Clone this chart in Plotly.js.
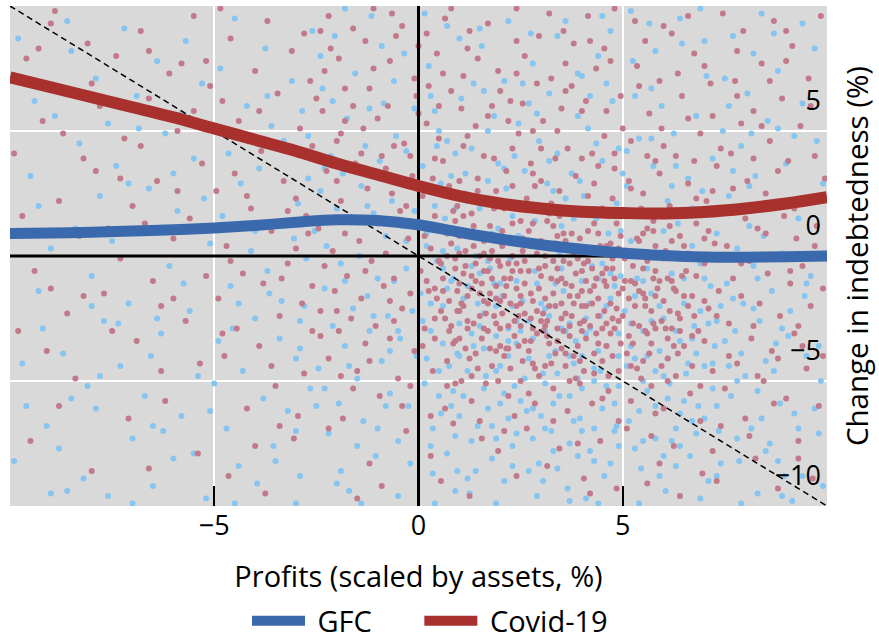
<!DOCTYPE html>
<html>
<head>
<meta charset="utf-8">
<script src="https://cdn.plot.ly/plotly-3.0.1.min.js"></script>
<style>html,body{margin:0;padding:0;background:#fff;}#chart{width:879px;height:639px;}</style>
</head>
<body>
<div id="chart"></div>
<script>
// ---- Data ----
const seriesNames = ["GFC", "Covid-19"];

// Smoothed lines (x in %, y in %)
const lineX = [-10,-9,-8,-7,-6,-5,-4,-3,-2,-1,0,1,2,3,4,5,6,7,8,9,10];
const gfcLineY = [0.9,0.92,0.95,1.0,1.05,1.12,1.22,1.35,1.45,1.42,1.25,0.95,0.68,0.45,0.27,0.12,0.02,-0.04,-0.05,-0.03,0.0];
const covidLineY = [7.15,6.75,6.35,5.95,5.55,5.1,4.65,4.2,3.7,3.25,2.8,2.4,2.1,1.9,1.77,1.72,1.7,1.76,1.9,2.1,2.35];

// Reference diagonal (y = -x) and zero lines
const diagX = [-10, 10];
const diagY = [10, -10];
const axisSpan = [-10, 10];
const zeroPair = [0, 0];

// Tick labels
const xTickVals = [-10, -5, 0, 5, 10];
const xTickText = ["", "\u22125", "0", "5", "10"];
const yTickVals = [-10, -5, 0, 5];
const yTickText = ["\u221210", "\u22125", "0", "5"];

// Firm-level scatter points, GFC
const gfcPoints = [
[-9.8,8.7],[-9.5,3.2],[-9.3,-1.4],[-9.1,-6.8],[-8.9,5.6],[-8.7,-3.9],[-8.6,9.4],[-8.4,1.1],[-8.2,-8.9],[-8.1,-5.2],[-7.9,7.1],[-7.8,2.4],[-7.7,-2.6],[-7.6,-9.6],[-9.7,-4.3],[-9.4,6.2],[-9.0,0.3],[-8.8,-7.7],[-8.3,4.5],[-8.0,-0.8],[-7.6,5.3],[-9.9,-8.2],[-9.2,-2.9],[-8.5,8.2],[-7.9,-6.1],
[-7.4,3.6],[-7.3,-4.4],[-7.2,9.1],[-7.1,-1.9],[-7.0,-7.3],[-6.9,6.4],[-6.8,0.9],[-6.7,-5.6],[-6.6,2.7],[-6.5,-9.2],[-6.4,7.8],[-6.3,-3.1],[-6.2,4.9],[-6.1,-0.4],[-6.0,-8.1],[-5.9,1.8],[-5.8,-6.4],[-5.7,8.6],[-5.6,-2.2],[-5.5,3.9],[-5.4,-4.8],[-5.3,6.9],[-5.2,-9.7],[-5.1,0.5],[-7.35,-2.7],[-6.85,5.1],[-6.25,-7.0],[-5.75,-1.1],[-5.25,2.3],[-6.55,-4.0],
[-4.9,-3.4],[-4.85,7.5],[-4.8,1.6],[-4.7,-6.9],[-4.65,4.1],[-4.6,-1.2],[-4.5,9.5],[-4.4,-8.4],[-4.35,2.9],[-4.3,-4.6],[-4.2,6.0],[-4.1,0.2],[-4.0,-2.5],[-3.95,-9.1],[-3.9,3.5],[-3.8,-5.7],[-3.75,8.3],[-3.7,-0.6],[-3.6,5.2],[-3.55,-7.6],[-3.5,1.3],[-3.4,-3.3],[-3.35,-1.8],[-3.3,4.6],[-3.2,-6.2],[-3.1,7.0],[-3.05,0.7],[-3.0,-4.1],[-2.95,2.1],[-2.9,-8.8],[-2.85,5.8],[-2.8,-2.0],[-2.75,-0.1],[-2.7,3.1],[-2.65,-5.3],[-2.6,9.0],[-2.55,1.0],[-4.55,-2.9],[-3.65,-1.5],[-2.9,-3.7],
[-2.45,-4.5],[-2.4,2.6],[-2.35,6.7],[-2.3,-1.3],[-2.25,0.4],[-2.2,-7.1],[-2.15,4.0],[-2.1,-2.8],[-2.05,8.8],[-2.0,1.9],[-1.95,-5.9],[-1.9,-0.3],[-1.85,3.3],[-1.8,-3.6],[-1.75,5.5],[-1.7,-9.4],[-1.65,1.4],[-1.6,-2.1],[-1.55,7.3],[-1.5,-4.9],[-1.45,0.0],[-1.4,2.8],[-1.35,-6.6],[-1.3,4.4],[-1.25,-1.6],[-1.2,-3.0],[-1.15,9.6],[-1.1,1.7],[-1.05,-8.0],[-1.0,-0.9],[-0.95,3.8],[-0.9,-4.2],[-0.85,6.1],[-0.8,0.8],[-0.75,-2.4],[-0.7,-5.5],[-0.65,2.2],[-0.6,-1.0],[-0.55,4.8],[-0.5,-7.4],[-0.45,-3.3],[-0.4,1.2],[-0.35,8.1],[-0.3,-0.5],[-0.25,-6.0],[-0.2,3.0],[-0.15,-2.2],[-0.1,5.9],[-0.05,-4.0],[-2.3,3.5],[-1.8,-1.0],[-1.25,2.0],[-0.7,-3.8],[-0.3,0.6],[-1.9,-8.6],
[0.05,-1.5],[0.1,3.6],[0.15,-5.1],[0.2,0.9],[0.25,7.6],[0.3,-3.0],[0.35,-8.7],[0.4,2.0],[0.45,-0.2],[0.5,5.0],[0.55,-6.3],[0.6,-2.0],[0.65,1.5],[0.7,9.2],[0.75,-4.4],[0.8,3.2],[0.85,-0.9],[0.9,-7.2],[0.95,0.3],[1.0,-2.7],[1.05,6.3],[1.1,-5.6],[1.15,2.5],[1.2,-1.2],[1.25,-9.5],[1.3,4.3],[1.35,-3.6],[1.4,0.0],[1.45,-6.8],[1.5,1.9],[1.55,8.4],[1.6,-2.3],[1.65,-4.8],[1.7,3.0],[1.75,-0.5],[1.8,-8.1],[1.85,5.6],[1.9,-3.2],[1.95,1.1],[2.0,-5.9],[2.05,-1.6],[2.1,7.0],[2.15,2.7],[2.2,-4.0],[2.25,-0.1],[2.3,-7.6],[2.35,4.0],[2.4,-2.6],[2.45,0.8],[0.2,-4.1],[0.45,4.4],[0.7,-1.3],[0.95,-3.9],[1.2,2.2],[1.45,-1.9],[1.7,-6.1],[1.95,3.7],[2.2,-2.9],[2.45,5.3],[0.35,-6.9],[0.6,0.2],[0.85,-5.4],[1.1,1.0],[1.35,6.9],[1.6,-3.7],[1.85,-1.1],[2.1,-9.0],[2.35,-5.2],[0.15,9.7],[0.55,2.9],[0.95,-8.6],[1.5,-0.7],[1.9,-4.6],[2.3,1.6],[2.4,-3.5],
[2.55,-1.8],[2.6,3.4],[2.65,-6.2],[2.7,0.5],[2.75,8.9],[2.8,-3.3],[2.85,-0.6],[2.9,5.7],[2.95,-8.3],[3.0,1.8],[3.05,-4.7],[3.1,-2.1],[3.15,2.9],[3.2,6.5],[3.25,-7.0],[3.3,-0.2],[3.35,-3.8],[3.4,4.1],[3.45,-5.6],[3.5,1.2],[3.55,-1.4],[3.6,9.4],[3.65,-9.3],[3.7,-2.7],[3.75,3.3],[3.8,-4.3],[3.85,0.4],[3.9,7.3],[3.95,-6.5],[4.0,-1.0],[4.05,2.4],[4.1,-3.1],[4.15,5.1],[4.2,-7.8],[4.25,-0.4],[4.3,-5.0],[4.35,1.5],[4.4,8.0],[4.45,-2.4],[4.5,3.8],[4.55,-8.8],[4.6,-3.6],[4.65,0.9],[4.7,-1.7],[4.75,6.2],[4.8,-5.9],[4.85,2.1],[4.9,-4.0],[4.95,-0.8],[2.6,-4.9],[2.85,1.4],[3.1,-6.9],[3.35,-1.1],[3.6,2.3],[3.85,-3.4],[4.1,-9.7],[4.35,4.5],[4.6,-2.0],[4.85,-6.8],[2.7,-2.6],[2.95,4.6],[3.2,-4.0],[3.45,0.1],[3.7,-7.5],[3.95,3.0],[4.2,-1.9],[4.45,-4.6],[4.7,9.0],[4.95,1.0],[2.55,6.9],[3.05,-9.0],[3.5,-2.9],[4.0,-5.3],[4.5,-0.3],[4.9,4.3],
[5.05,-2.2],[5.1,2.8],[5.15,-6.6],[5.2,0.6],[5.25,7.8],[5.3,-4.1],[5.35,-0.9],[5.4,4.7],[5.45,-8.5],[5.5,-3.0],[5.55,1.7],[5.6,-5.4],[5.65,9.3],[5.7,-1.5],[5.75,3.6],[5.8,-7.3],[5.85,0.0],[5.9,-3.8],[5.95,6.0],[6.0,-2.5],[6.05,-9.4],[6.1,2.2],[6.15,-5.1],[6.2,-0.7],[6.25,4.9],[6.3,-6.9],[6.35,1.3],[6.4,-3.4],[6.45,8.5],[6.5,-1.9],[6.55,-4.7],[6.6,3.1],[6.65,-8.0],[6.7,0.4],[6.75,-2.8],[6.8,5.6],[6.85,-6.0],[6.9,-0.3],[6.95,2.6],[7.0,-4.4],[7.05,7.2],[7.1,-9.0],[7.15,-1.2],[7.2,3.9],[7.25,-3.6],[7.3,0.9],[7.35,-7.0],[7.4,-2.0],[7.45,5.0],[5.5,-1.0],[6.0,1.0],[6.5,-5.8],[7.0,-0.9],[5.3,6.4],[6.8,-3.9],
[7.55,-1.1],[7.6,2.4],[7.65,-5.6],[7.7,8.8],[7.75,-3.0],[7.8,0.3],[7.85,-8.2],[7.9,4.4],[7.95,-1.9],[8.0,-4.8],[8.05,6.5],[8.1,1.2],[8.15,-6.9],[8.2,-0.4],[8.25,3.2],[8.3,-9.5],[8.35,-2.6],[8.4,9.7],[8.45,0.8],[8.5,-4.2],[8.55,5.4],[8.6,-7.5],[8.65,-1.4],[8.7,2.0],[8.75,-3.5],[8.8,7.4],[8.85,-5.9],[8.9,0.1],[8.95,-8.8],[9.0,3.7],[9.1,-2.2],[9.2,-6.3],[9.3,1.5],[9.4,6.1],[9.5,-4.0],[9.6,-0.8],[9.7,8.3],[9.8,-7.1],[9.9,2.9],[9.15,-9.8],[9.45,-1.6],[9.75,4.6],[9.05,-3.2],[8.15,4.9],[9.85,-5.0],
[0.3,-1.9],[0.6,-3.5],[0.9,1.9],[1.2,-4.6],[1.5,-2.8],[1.8,0.9],[2.1,-5.5],[2.4,-1.0],[2.7,-4.1],[3.0,-1.9],[3.3,-5.9],[3.6,-3.0],[3.9,-4.9],[4.2,-2.9],[4.5,-6.1],[4.8,-1.2],[5.1,-4.4],[5.4,-6.2],[5.7,-2.6],[6.0,-4.8],[6.3,-3.0],[6.6,-4.3],[6.9,-2.2],[7.2,-5.3],[7.5,-3.4],[7.8,-5.0],[0.5,-5.6],[1.0,-6.4],[1.6,-5.3],[2.2,-6.5],[2.8,-7.3],[3.4,-4.7],[4.0,-7.0],[4.6,-5.2],[5.2,-3.6],[5.8,-4.6],[6.4,-6.3],[7.0,-6.5],[7.6,-4.4],[0.8,-1.0],[1.3,-3.1],[1.9,-2.0],[2.5,-3.0],[3.1,-5.1],[3.7,-5.6],[4.3,-4.5],[4.9,-3.1],[5.5,-5.0],[6.1,-5.7],[6.7,-3.3],[7.3,-2.6],[0.2,0.4],[1.15,3.3],[2.6,2.0],[3.8,1.5],[5.0,3.3],[6.2,2.8],[7.4,1.7],[5.6,-0.5],[4.4,-0.9],
[-9.6,-6.0],[-9.0,-9.5],[-8.5,-5.7],[-8.0,-2.0],[-7.5,0.6],[-7.0,-9.9],[-6.5,-6.8],[-6.0,3.3],[-5.5,-7.9],[-5.0,-5.1],[-4.5,-9.9],[-4.0,1.0],[-3.5,-8.2],[-3.0,-9.9],[-2.5,-6.0],[-2.0,-9.1],[-1.5,-7.6],[-1.0,-6.9],[-0.5,-9.6],[-0.2,-8.3],
[0.4,-9.9],[0.9,-9.4],[1.4,-8.6],[1.9,-9.9],[2.4,-7.1],[2.9,-9.6],[3.4,-8.5],[3.9,-8.0],[4.4,-9.9],[4.9,-7.6],[5.4,-9.9],[5.9,-8.8],[6.4,-7.6],[6.9,-9.7],[7.4,-8.3],[7.9,-9.9],[8.4,-6.5],[8.9,-9.6],[9.4,-8.8],[9.9,-9.2],
[0.3,-7.6],[0.8,-6.0],[1.3,-7.4],[1.8,-6.8],[2.3,-8.4],[2.8,-6.1],[3.3,-7.8],[3.8,-6.6],[4.3,-8.2],[4.8,-7.0],[5.3,-7.7],[5.8,-6.0],[6.3,-8.4],[6.8,-7.1],[7.3,-6.0],[7.8,-7.3],[8.3,-5.4],[8.8,-8.2],[9.3,-6.9],[9.8,-3.6],
[0.4,5.8],[1.0,8.7],[1.6,6.6],[2.2,9.4],[2.8,7.7],[3.4,8.8],[4.0,7.2],[4.6,6.9],[5.2,9.8],[5.8,8.2],[6.4,9.5],[7.0,8.6],[7.6,6.0],[8.2,8.1],[8.8,5.1],[9.4,9.3],[-0.6,7.0],[-1.2,5.9],[-1.8,9.9],[-2.4,8.0],
[0.6,-0.5],[1.1,-1.7],[1.7,-0.2],[2.3,-2.0],[2.9,-1.1],[3.5,-0.5],[4.1,-2.5],[4.7,-0.7],[5.3,-1.6],[5.9,-2.0],[6.5,-0.9],[7.1,-2.7],[7.7,-1.7],[8.3,-0.9],[8.9,-2.9],[9.5,-1.1],[2.0,-4.4],[3.2,-2.4],[4.4,-3.8],[5.6,-4.0],
[-2.7,4.8],[-2.1,6.2],[-1.5,3.6],[-0.9,8.4],[-0.3,4.2],[0.3,6.4],[0.9,4.1],[1.5,9.1],[2.1,3.5],[2.7,6.1],[3.3,2.6],[3.9,5.6],[4.5,9.6],[5.1,4.2],[5.7,6.7],[6.3,3.6],[6.9,9.9],[7.5,7.1],[8.1,2.8],[8.7,8.9],
[-2.9,-2.6],[-2.3,-5.3],[-1.7,-4.4],[-1.1,-2.4],[-0.5,-3.0],[0.1,-2.6],[0.7,-7.9],[1.3,-0.4],[1.9,-7.3],[2.5,-5.8],[3.1,-3.0],[3.7,-9.8],[4.3,-6.9],[4.9,-5.2],[5.5,-7.4],[6.1,-4.1],[6.7,-6.6],[7.3,-8.8],[7.9,-3.9],[8.5,-7.8],
[0.2,2.8],[0.7,4.6],[1.2,-8.9],[1.7,5.0],[2.2,-3.4],[2.7,-8.6],[3.2,3.8],[3.7,-4.0],[4.2,6.4],[4.7,-8.3],[5.2,-2.7],[5.7,4.7],[6.2,-7.4],[6.7,1.9],[7.2,-4.3],[7.7,3.4],[8.2,-2.1],[8.7,-4.6],[9.2,4.8],[9.7,-6.1],
[-9.3,2.0],[-8.6,-9.4],[-7.8,-4.8],[-7.1,2.9],[-6.4,-2.5],[-5.8,5.7],[-5.1,-6.2],[-4.4,-1.9],[-3.7,6.4],[-3.0,-7.0],[-2.2,1.4],[-1.4,-9.9],[-0.8,-6.0],[-0.1,1.8],[0.5,-4.6],[1.0,-4.0],[2.0,-1.1],[3.0,-6.4],[4.0,-4.0],[6.0,-8.0]
];

// Firm-level scatter points, Covid-19
const covidPoints = [
[-9.9,4.1],[-9.6,7.9],[-9.4,-0.6],[-9.2,5.4],[-9.0,9.3],[-8.8,2.2],[-8.6,-2.3],[-8.5,6.6],[-8.3,0.8],[-8.1,8.5],[-7.9,3.4],[-7.7,-1.5],[-9.7,1.6],[-9.1,-3.8],[-8.4,-4.9],[-7.8,6.0],[-9.5,-7.4],[-8.0,-8.6],[-7.6,1.1],[-8.9,9.8],
[-7.4,8.0],[-7.3,-0.1],[-7.2,4.7],[-7.0,2.0],[-6.9,-3.4],[-6.8,9.0],[-6.6,6.3],[-6.5,-1.0],[-6.4,3.0],[-6.2,-5.8],[-6.1,7.3],[-6.0,0.7],[-5.9,5.0],[-5.7,-2.6],[-5.6,1.5],[-5.5,9.6],[-5.4,-7.9],[-5.3,3.7],[-5.2,-0.8],[-5.1,6.8],[-7.1,-6.5],[-6.7,1.3],[-6.3,-2.0],[-5.8,7.7],[-5.35,-4.3],
[-4.95,2.6],[-4.9,-1.7],[-4.8,6.2],[-4.75,-4.0],[-4.7,0.4],[-4.6,8.7],[-4.5,3.3],[-4.45,-2.9],[-4.4,5.4],[-4.3,-0.7],[-4.2,-6.1],[-4.1,1.9],[-4.0,7.4],[-3.9,-3.6],[-3.85,4.2],[-3.8,-1.1],[-3.7,9.4],[-3.6,1.0],[-3.5,-5.2],[-3.45,6.5],[-3.4,-2.4],[-3.3,3.0],[-3.2,-0.3],[-3.1,8.2],[-3.05,-7.3],[-3.0,2.3],[-2.9,5.1],[-2.85,-1.9],[-2.8,-4.7],[-2.7,0.9],[-2.65,7.0],[-2.6,-3.0],[-2.55,3.9],[-4.65,-8.8],[-3.75,-9.5],[-2.95,-6.4],[-4.15,4.6],[-3.35,-0.9],[-2.75,1.6],[-4.85,9.9],
[-2.45,1.1],[-2.4,-2.2],[-2.35,5.8],[-2.3,-0.4],[-2.25,3.4],[-2.2,-4.1],[-2.15,8.3],[-2.1,0.2],[-2.05,-1.4],[-2.0,4.6],[-1.95,-3.0],[-1.9,2.2],[-1.85,-6.5],[-1.8,6.7],[-1.75,-0.8],[-1.7,1.5],[-1.65,-2.5],[-1.6,9.1],[-1.55,3.7],[-1.5,-4.6],[-1.45,0.6],[-1.4,-1.7],[-1.35,5.1],[-1.3,-3.5],[-1.25,2.7],[-1.2,-8.3],[-1.15,-0.2],[-1.1,7.5],[-1.05,-2.8],[-1.0,1.3],[-0.95,-5.6],[-0.9,4.0],[-0.85,-1.2],[-0.8,0.1],[-0.75,6.0],[-0.7,-3.3],[-0.65,2.5],[-0.6,-0.9],[-0.55,8.8],[-0.5,-4.9],[-0.45,1.8],[-0.4,-2.1],[-0.35,4.5],[-0.3,-7.0],[-0.25,0.7],[-0.2,-1.5],[-0.15,3.2],[-0.1,-3.8],[-0.05,6.4],[-2.2,-6.9],[-1.6,-5.3],[-0.9,-9.2],[-0.4,-6.0],[-1.95,7.9],[-0.65,9.7],
[0.05,-0.6],[0.1,2.4],[0.15,-2.9],[0.2,5.3],[0.25,-1.4],[0.3,0.3],[0.35,-4.6],[0.4,1.6],[0.45,8.1],[0.5,-0.2],[0.55,-2.2],[0.6,3.8],[0.65,-6.1],[0.7,0.9],[0.75,-1.8],[0.8,6.6],[0.85,-3.5],[0.9,-0.5],[0.95,2.0],[1.0,-1.1],[1.05,-5.0],[1.1,4.4],[1.15,0.2],[1.2,-2.6],[1.25,9.0],[1.3,-0.8],[1.35,1.2],[1.4,-3.9],[1.45,3.1],[1.5,-1.5],[1.55,-7.3],[1.6,0.6],[1.65,-2.3],[1.7,5.6],[1.75,-0.1],[1.8,-4.4],[1.85,1.9],[1.9,-1.2],[1.95,7.4],[2.0,-2.9],[2.05,0.4],[2.1,-0.9],[2.15,3.4],[2.2,-5.6],[2.25,-1.9],[2.3,1.3],[2.35,-3.2],[2.4,-0.3],[2.45,4.9],[0.1,-3.6],[0.3,-8.0],[0.5,4.7],[0.7,-4.2],[0.9,1.4],[1.1,-2.0],[1.3,-5.8],[1.5,0.0],[1.7,-3.0],[1.9,2.6],[2.1,-4.0],[2.3,-0.6],[2.45,-2.4],[0.2,-1.0],[0.4,-2.5],[0.6,-0.9],[0.8,0.5],[1.0,-3.3],[1.2,0.9],[1.4,-1.0],[1.6,-1.8],[1.8,0.2],[2.0,-0.4],[2.2,-2.8],[2.4,-1.3],[0.25,6.8],[0.65,9.5],[1.05,5.9],[1.45,7.9],[1.85,3.9],[2.25,6.2],[0.55,-9.0],[1.25,-9.6],[1.95,-7.8],[0.85,-6.7],[1.65,-5.1],[2.35,-6.4],[0.15,0.8],[0.45,-1.7],[0.75,2.8],[1.15,-0.4],[1.35,-2.7],[1.55,2.2],[1.75,-1.5],[2.05,1.0],[2.15,-3.7],[0.95,-2.2],[1.85,-2.4],[2.3,2.8],[0.35,3.1],[2.4,8.6],
[2.5,-1.6],[2.55,0.7],[2.6,-3.4],[2.65,2.3],[2.7,-0.6],[2.75,-2.5],[2.8,5.0],[2.85,-4.5],[2.9,0.1],[2.95,-1.3],[3.0,3.0],[3.05,-3.0],[3.1,-0.4],[3.15,1.4],[3.2,-2.0],[3.25,7.1],[3.3,-5.3],[3.35,0.5],[3.4,-1.0],[3.45,2.6],[3.5,-3.7],[3.55,-0.2],[3.6,-2.3],[3.65,4.3],[3.7,-1.6],[3.75,0.9],[3.8,-4.0],[3.85,-0.7],[3.9,1.8],[3.95,-2.7],[4.0,5.8],[4.05,-0.3],[4.1,-3.3],[4.15,1.0],[4.2,-1.4],[4.25,-5.9],[4.3,2.9],[4.35,-0.9],[4.4,-2.4],[4.45,0.4],[4.5,-4.2],[4.55,8.3],[4.6,-1.2],[4.65,1.6],[4.7,-3.1],[4.75,-0.1],[4.8,3.5],[4.85,-2.1],[4.9,-6.6],[4.95,0.8],
[2.6,-0.2],[2.8,1.3],[3.0,-0.8],[3.2,0.3],[3.4,-2.9],[3.6,0.6],[3.8,-1.9],[4.0,-0.6],[4.2,0.2],[4.4,-1.7],[4.6,-0.5],[4.8,-2.9],[2.7,-3.8],[2.9,-2.2],[3.1,-4.4],[3.3,-1.5],[3.5,-0.9],[3.7,-3.2],[3.9,-0.1],[4.1,-2.0],[4.3,-3.9],[4.5,-0.7],[4.7,0.5],[4.9,-1.5],
[2.55,6.1],[2.95,8.8],[3.35,3.9],[3.75,6.8],[4.15,9.6],[4.55,4.8],[4.95,6.4],[3.05,5.4],[3.55,9.0],[4.35,7.5],[2.65,-6.9],[3.15,-8.4],[3.65,-6.2],[4.05,-8.9],[4.45,-7.4],[4.85,-9.3],[2.85,-5.9],[3.45,-7.7],[3.95,-5.1],[4.65,-5.4],[2.75,3.7],[3.25,2.1],[3.85,3.2],[4.25,4.1],[4.75,2.3],[3.15,-2.6],[3.6,-1.1],[4.05,-4.6],[4.5,1.9],[2.5,-5.0],
[5.05,-1.0],[5.1,1.6],[5.15,-3.2],[5.2,4.6],[5.25,-0.4],[5.3,-2.0],[5.35,7.6],[5.4,0.6],[5.45,-4.9],[5.5,2.5],[5.55,-1.7],[5.6,-0.2],[5.65,5.7],[5.7,-3.5],[5.75,1.0],[5.8,-6.3],[5.85,-1.3],[5.9,3.3],[5.95,-2.6],[6.0,9.2],[6.05,0.2],[6.1,-4.1],[6.15,2.0],[6.2,-1.0],[6.25,-7.6],[6.3,4.0],[6.35,-2.3],[6.4,0.8],[6.45,6.4],[6.5,-3.6],[6.55,-0.6],[6.6,2.9],[6.65,-5.5],[6.7,-1.6],[6.75,8.1],[6.8,1.3],[6.85,-3.0],[6.9,4.9],[6.95,-8.7],[7.0,-0.3],[7.05,2.2],[7.1,-2.1],[7.15,6.9],[7.2,-4.6],[7.25,0.5],[7.3,3.6],[7.35,-1.4],[7.4,-6.8],[7.45,9.7],[5.2,-5.8],[5.6,-9.1],[6.0,-6.1],[6.4,-9.6],[6.9,-5.2],[7.3,-9.0],[5.4,-2.8],[5.8,0.4],[6.2,-2.9],[6.6,0.1],[7.0,-3.4],[5.15,3.0],[5.55,8.6],[5.95,5.1],[6.35,7.3],[6.75,3.8],[7.2,5.6],[5.7,-7.2],[6.1,-0.9],[6.5,1.7],[7.1,1.0],
[7.55,0.4],[7.6,-2.7],[7.65,4.1],[7.7,-0.9],[7.75,7.0],[7.8,-4.3],[7.85,1.8],[7.9,-1.6],[7.95,9.0],[8.0,-6.5],[8.05,3.0],[8.1,-0.2],[8.15,-3.3],[8.2,5.8],[8.25,-8.1],[8.3,1.1],[8.35,-1.9],[8.4,7.7],[8.45,-5.0],[8.5,2.5],[8.55,-0.7],[8.6,4.6],[8.65,-3.8],[8.7,9.4],[8.75,0.0],[8.8,-9.3],[8.85,-2.4],[8.9,6.3],[8.95,1.6],[9.0,-5.7],[9.05,3.8],[9.1,-1.1],[9.15,8.4],[9.2,-3.1],[9.25,0.7],[9.3,-7.4],[9.35,5.2],[9.4,-0.4],[9.45,2.2],[9.5,-4.5],[9.55,7.1],[9.6,-2.0],[9.65,-8.9],[9.7,4.0],[9.75,1.2],[9.8,-6.0],[9.85,9.6],[9.9,-1.3],[9.95,3.1],[7.7,2.7],[8.3,-4.8],[8.8,3.4],[9.3,-2.8],[7.9,5.3],[9.6,6.0],
[0.6,-1.4],[0.8,-2.8],[1.0,0.1],[1.2,-1.6],[1.4,-0.3],[1.6,-2.9],[1.8,-0.9],[2.0,-3.6],[2.2,0.6],[2.4,-2.0],[2.6,-1.1],[2.8,-2.9],[3.0,0.6],[3.2,-3.5],[3.4,-0.5],[3.6,-4.4],[3.8,0.1],[4.0,-1.4],[4.2,-2.8],[4.4,0.9],[4.6,-3.6],[4.8,-0.9],[5.0,-2.4],[5.2,0.1],[5.4,-1.4],[5.6,-3.1],[5.8,-0.6],[6.0,-1.8],[6.2,0.6],[6.4,-2.5],
[0.7,0.0],[0.9,-3.4],[1.1,-0.7],[1.3,1.7],[1.5,-2.4],[1.7,-0.6],[1.9,-3.8],[2.1,-1.6],[2.3,0.0],[2.5,-2.8],[2.7,1.0],[2.9,-3.1],[3.1,-1.7],[3.3,1.2],[3.5,-2.5],[3.7,-0.3],[3.9,-3.6],[4.1,-1.0],[4.3,1.3],[4.5,-2.9],[4.7,-1.9],[4.9,0.3],[5.1,-3.9],[5.3,-1.1],[5.5,0.9],[5.7,-2.2],[5.9,-1.0],[6.1,-3.3],[6.3,-1.4],[6.5,0.4],
[1.05,-1.9],[1.55,-3.3],[2.05,-2.3],[2.55,0.2],[3.05,-2.3],[3.55,-3.0],[4.05,-2.6],[4.55,-1.0],[5.05,-0.1],[5.55,-2.0],[6.05,-2.9],[1.25,-4.1],[1.75,1.2],[2.25,-4.5],[2.75,-1.5],[3.25,-0.9],[3.75,-2.4],[4.25,-0.5],[4.75,-4.0],[5.25,-2.7],[5.75,1.4],[6.25,-1.3],[0.85,1.8],[1.45,2.6],[2.15,2.1],[2.85,2.8],[3.45,1.6],[4.15,2.4],[4.85,1.3],[5.45,1.9],[6.15,1.2],[3.85,-4.9],[2.95,-4.8],[4.65,-4.8],[1.95,-5.0],[5.35,-4.5],
[0.4,-3.3],[0.55,1.0],[3.35,-3.9],[3.95,0.7],[2.45,-3.6],[5.65,-3.9],[6.35,-3.9],[6.6,-2.0],[6.8,-0.8],[7.0,-1.8],
[-2.8,8.9],[-2.5,6.3],[-2.2,9.6],[-1.9,4.9],[-1.6,6.0],[-1.3,8.6],[-1.0,5.5],[-0.7,7.8],[-0.4,9.2],[-0.1,7.1],[0.2,8.9],[0.5,6.0],[0.8,9.9],[1.1,7.2],[1.4,5.2],[1.7,9.3],[2.0,6.6],[2.3,4.3],[2.6,8.0],[2.9,6.9],[3.2,9.7],[3.5,5.9],[3.8,8.5],[4.1,6.2],[4.4,3.6],[4.7,7.8],[5.0,5.1],[5.3,9.4],[5.6,4.0],[5.9,7.0],
[-2.6,4.4],[-2.0,3.0],[-1.4,4.1],[-0.8,3.5],[-0.2,4.0],[0.4,3.9],[1.0,3.0],[1.6,4.0],[2.2,5.4],[2.8,3.3],[3.4,5.0],[4.0,3.9],[4.6,5.8],[5.2,2.7],[5.8,3.8],[-2.3,7.4],[-1.1,9.9],[0.0,8.4],[1.2,8.3],[2.4,9.9],[3.6,7.7],[4.8,9.9],[6.2,8.9],[6.6,5.5],[7.0,7.6],[7.4,4.3],[7.8,8.2],[8.2,3.9],[8.6,7.0],[9.0,9.0],
[0.55,-0.3],[0.75,-3.0],[0.95,-1.4],[1.15,-3.7],[1.35,0.4],[1.55,-1.1],[1.75,-3.7],[1.95,-0.2],[2.15,-1.2],[2.35,-2.6],[2.55,-4.2],[2.75,0.4],[2.95,-0.5],[3.15,-3.2],[3.35,-2.0],[3.55,0.9],[3.75,-1.2],[3.95,-4.2],[4.15,-0.2],[4.35,-3.1],[4.55,-2.2],[4.75,-0.5],[4.95,-3.5],[5.15,-1.7],[5.35,0.7],[5.55,-3.0],[5.75,-0.9],[5.95,-4.4],[6.15,-2.2],[6.45,-0.8],
[0.65,-2.5],[0.9,-0.1],[1.2,-2.9],[1.45,-4.5],[1.7,-1.9],[2.0,-1.8],[2.25,-0.9],[2.5,-0.6],[2.75,-3.4],[3.0,-2.6],[3.25,-4.3],[3.5,-1.9],[3.75,0.3],[4.0,-3.0],[4.25,-1.9],[4.5,0.2],[4.75,-2.5],[5.0,-1.3],[5.25,-3.5],[5.5,-0.5],[5.75,-2.7],[6.0,-0.1],[6.25,-3.6],[6.5,-1.6],[6.75,-2.4],
[1.0,0.8],[1.6,0.1],[2.2,-0.3],[2.8,-1.8],[3.4,-3.4],[4.0,0.3],[4.6,-2.7],[5.2,-4.4],[5.8,-1.6],[6.4,-3.0],[1.3,-1.3],[1.9,-2.7],[2.5,-1.9],[3.1,0.0],[3.7,-2.8],[4.3,-1.2],[4.9,-4.6],[5.5,-1.5],[6.1,0.0],[6.7,-4.4],[3.3,-0.2],[3.9,-1.6],[4.4,-3.5],[2.6,-2.3],[3.6,-3.9],
[-9.0,-1.3],[-8.2,3.9],[-7.5,-3.0],[-6.8,4.4],[-6.0,-1.7],[-5.5,5.8],[-4.8,-3.1],[-4.2,2.4],[-3.6,-4.4],[-3.0,0.3],[-2.4,-3.2],[-1.8,0.9],[-1.2,-4.2],[-0.6,-2.6],[-0.2,-5.2],[0.3,-6.4],[0.9,-5.1],[1.5,-6.6],[2.1,-7.0],[2.7,-5.5],[3.3,-6.6],[3.9,-7.5],[4.5,-5.7],[5.1,-6.9],[5.7,-5.2],[6.3,-4.8],[6.9,-6.6],[7.5,-5.3],[8.1,-7.2],[8.7,-5.9],[9.3,-8.1],[9.9,-4.0],[7.2,-7.8],[5.9,-8.3],[4.2,-9.5],[2.4,-8.8],[-1.5,-9.7],[-4.0,-7.6],[-6.6,-8.5],[-8.8,-6.0],
[-2.4,9.0],[-1.8,5.4],[-1.2,6.7],[-0.6,4.4],[0.0,5.7],[0.6,7.3],[1.2,4.8],[1.8,6.0],[2.4,7.3],[3.0,4.3],[3.6,6.6],[4.2,8.6],[4.8,4.1],[5.4,6.8],[6.0,4.4],[6.6,9.6],[7.2,2.6],[7.8,6.4],[8.4,5.2],[9.0,7.8],
[0.4,-1.3],[0.7,-5.2],[1.0,-2.2],[1.3,-4.8],[1.6,-0.6],[1.9,-1.7],[2.2,-3.7],[2.5,1.4],[2.8,-4.3],[3.1,-2.8],[3.4,0.8],[3.7,-5.0],[4.0,-2.0],[4.3,-4.7],[4.6,0.4],[4.9,-2.6],[5.2,-1.0],[5.5,-4.2],[5.8,-2.9],[6.1,-5.0],
[6.4,-0.1],[6.7,-3.2],[7.0,0.7],[7.3,-2.4],[7.6,-4.0],[7.9,-0.3],[8.2,-2.8],[8.5,0.9],[8.8,-4.1],[9.1,-0.6],[9.4,-3.6],[9.7,0.4],[1.1,1.6],[2.1,1.9],[3.2,1.7],[4.4,1.7],[5.6,1.1],[6.8,2.3],[8.0,1.5],[9.2,1.9],
[-9.3,8.3],[-8.7,4.9],[-8.0,6.9],[-7.3,3.1],[-6.6,8.2],[-5.9,2.6],[-5.2,7.8],[-4.6,-0.2],[-3.9,5.8],[-3.2,1.8],[-2.6,-1.2],[-2.0,-2.2],[-1.3,-0.6],[-0.7,-1.8],[-0.3,2.0],[-1.9,-4.8],[-3.4,-6.8],[-6.3,-4.6],[-8.2,-1.6],[-9.8,-3.0]
];

// ---- Styles ----
const FONT = '"Open Sans", "Noto Sans", sans-serif';
const gfcDotColor = '#86c5ef';
const covidDotColor = '#c27a8a';
const gfcLineColor = '#3b69ad';
const covidLineColor = '#a8302d';
const NB = '\u00a0';

const traces = [
  { type: 'scatter', mode: 'markers', x: gfcPoints.map(p => p[0]), y: gfcPoints.map(p => p[1]),
    marker: { color: gfcDotColor, size: 6, line: { width: 0 } }, showlegend: false, hoverinfo: 'skip' },
  { type: 'scatter', mode: 'markers', x: covidPoints.map(p => p[0]), y: covidPoints.map(p => p[1]),
    marker: { color: covidDotColor, size: 6, line: { width: 0 } }, showlegend: false, hoverinfo: 'skip' },
  { type: 'scatter', mode: 'lines', x: axisSpan, y: zeroPair, line: { color: '#000', width: 3 }, showlegend: false, hoverinfo: 'skip' },
  { type: 'scatter', mode: 'lines', x: zeroPair, y: axisSpan, line: { color: '#000', width: 3 }, showlegend: false, hoverinfo: 'skip' },
  { type: 'scatter', mode: 'lines', x: diagX, y: diagY, line: { color: '#000', width: 1.5, dash: '6px,4px' }, showlegend: false, hoverinfo: 'skip' },
  { type: 'scatter', mode: 'lines', name: NB + seriesNames[0] + NB.repeat(5) + '\u2009', x: lineX, y: gfcLineY,
    line: { color: gfcLineColor, width: 11, shape: 'spline', smoothing: 1 } },
  { type: 'scatter', mode: 'lines', name: NB + seriesNames[1], x: lineX, y: covidLineY,
    line: { color: covidLineColor, width: 12, shape: 'spline', smoothing: 1 } }
];

const layout = {
  width: 879, height: 639,
  margin: { l: 10, r: 52, t: 6, b: 133, pad: 0 },
  paper_bgcolor: '#ffffff',
  plot_bgcolor: '#d9d9d9',
  font: { family: FONT, color: '#000', size: 27 },
  showlegend: true,
  legend: { orientation: 'h', xref: 'container', x: 247 / 879, xanchor: 'left',
            yref: 'container', y: (639 - 621) / 639, yanchor: 'middle',
            font: { family: FONT, size: 29, color: '#000' }, itemwidth: 53,
            bgcolor: 'rgba(0,0,0,0)' },
  xaxis: {
    range: [-10.0001, 10.0001], autorange: false, automargin: false, layer: 'above traces',
    tickmode: 'array', tickvals: xTickVals, ticktext: xTickText,
    ticks: 'inside', ticklen: 20, tickwidth: 2, tickcolor: '#000', ticklabelstandoff: 1,
    tickfont: { family: FONT, size: 27, color: '#000' },
    showgrid: true, gridcolor: '#ffffff', gridwidth: 2,
    zeroline: false, showline: false,
    title: { text: 'Profits (scaled by assets, %)', font: { family: FONT, size: 29, color: '#000' }, standoff: 24 }
  },
  yaxis: {
    range: [-10.0001, 10.0001], autorange: false, automargin: false,
    side: 'right',
    tickmode: 'array', tickvals: yTickVals, ticktext: yTickText,
    ticks: '', ticklabelposition: 'inside', ticklabelshift: -30, ticklabelstandoff: 3,
    tickfont: { family: FONT, size: 27, color: '#000' },
    showgrid: true, gridcolor: '#ffffff', gridwidth: 2,
    zeroline: false, showline: false,
    title: { text: 'Change in indebtedness (%)', font: { family: FONT, size: 29.5, color: '#000' }, standoff: 27 }
  }
};

Plotly.newPlot('chart', traces, layout, { staticPlot: true, displayModeBar: false });
</script>
</body>
</html>
